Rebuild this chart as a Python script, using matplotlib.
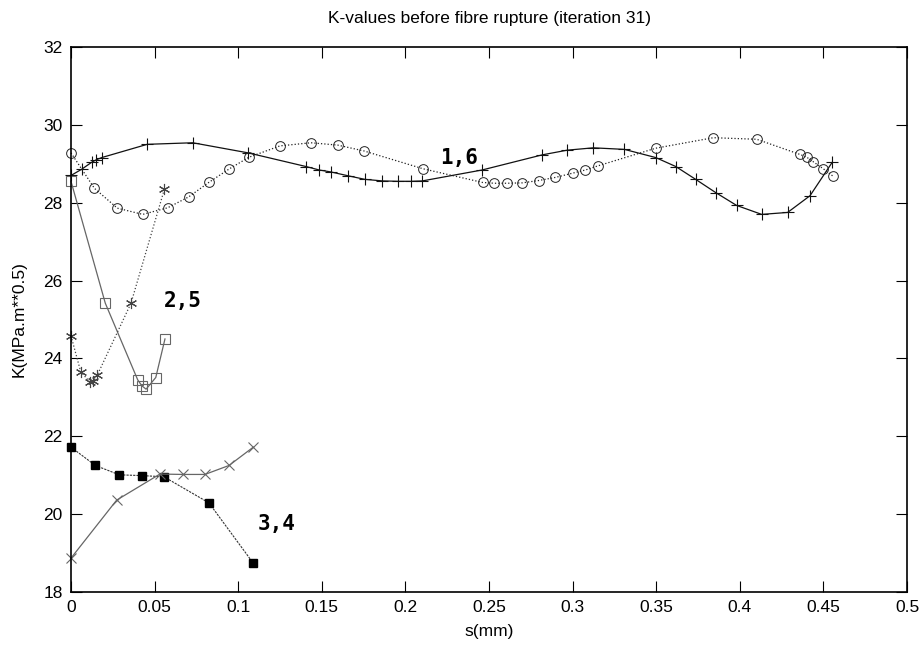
import matplotlib
matplotlib.use('Agg')
import matplotlib.pyplot as plt

# crack front 1,6
s_plus = [0.0, 0.0064, 0.0124, 0.015, 0.0184, 0.0456, 0.0728, 0.106, 0.1405, 0.1485,
          0.1555, 0.1659, 0.1758, 0.1862, 0.1958, 0.2032, 0.2101, 0.2458, 0.2819, 0.2968,
          0.3124, 0.331, 0.3497, 0.3617, 0.3736, 0.3856, 0.3981, 0.4131, 0.4286, 0.442, 0.4553]
k_plus = [28.7, 28.86, 29.04, 29.10, 29.16, 29.50, 29.54, 29.28, 28.93, 28.84,
          28.79, 28.69, 28.60, 28.56, 28.55, 28.55, 28.56, 28.84, 29.23, 29.35,
          29.41, 29.37, 29.16, 28.93, 28.60, 28.26, 27.93, 27.70, 27.75, 28.18, 29.04]

s_circ = [0.0, 0.014, 0.0277, 0.0429, 0.0578, 0.0704, 0.0827, 0.0947, 0.1065, 0.125,
          0.1435, 0.1595, 0.1752, 0.2107, 0.2462, 0.2532, 0.2606, 0.2699, 0.2797, 0.2897,
          0.3001, 0.3076, 0.3154, 0.3497, 0.3842, 0.4101, 0.436, 0.440, 0.444, 0.450, 0.4555]
k_circ = [29.28, 28.37, 27.86, 27.70, 27.87, 28.15, 28.53, 28.87, 29.17, 29.46,
          29.54, 29.48, 29.33, 28.87, 28.52, 28.50, 28.50, 28.51, 28.57, 28.65,
          28.76, 28.84, 28.95, 29.40, 29.67, 29.63, 29.24, 29.17, 29.05, 28.87, 28.69]

# crack front 2,5
s_sq = [0.0, 0.0205, 0.0399, 0.0423, 0.0449, 0.0507, 0.0562]
k_sq = [28.55, 25.42, 23.45, 23.30, 23.21, 23.51, 24.50]

s_star = [0.0, 0.0058, 0.0114, 0.0134, 0.0157, 0.0359, 0.0558]
k_star = [24.58, 23.66, 23.39, 23.43, 23.57, 25.42, 28.34]

# crack front 3,4
s_fsq = [0.0, 0.0146, 0.0289, 0.0423, 0.0556, 0.0825, 0.109]
k_fsq = [21.72, 21.25, 21.01, 20.99, 20.96, 20.29, 18.74]

s_x = [0.0, 0.0273, 0.0532, 0.0668, 0.0801, 0.0945, 0.109]
k_x = [18.87, 20.36, 21.03, 21.02, 21.02, 21.25, 21.72]

plt.rcParams['font.family'] = ['Liberation Sans', 'DejaVu Sans']

fig = plt.figure(figsize=(9.22, 6.47), dpi=100)
ax = fig.add_axes([71/922, 1-592/647, (907-71)/922, (592-47)/647])

ax.plot(s_plus, k_plus, '-', color='#111111', lw=0.9, marker='+', ms=8, mew=0.8, clip_on=False)
ax.plot(s_circ, k_circ, ':', color='#222222', lw=0.9, marker='o', ms=7, mfc='none', mew=0.7, clip_on=False)
ax.plot(s_sq, k_sq, '-', color='#666666', lw=0.9, marker='s', ms=7, mfc='none', mew=0.8, clip_on=False)
ax.plot(s_star, k_star, ':', color='#444444', lw=0.9, marker=(6, 2, 0), ms=8, mew=0.8, clip_on=False)
ax.plot(s_fsq, k_fsq, '--', color='#333333', lw=0.8, dashes=(2, 1), marker='s', ms=6, mfc='black',
        mec='black', clip_on=False)
ax.plot(s_x, k_x, '-', color='#666666', lw=0.9, marker='x', ms=7, mew=0.8, clip_on=False)

mono = dict(family='DejaVu Sans Mono', fontsize=15, fontweight='bold')
ax.text(0.2205, 29.0, '1,6', **mono)
ax.text(0.0555, 25.33, '2,5', **mono)
ax.text(0.1115, 19.6, '3,4', **mono)

ax.set_xlim(0, 0.5)
ax.set_ylim(18, 32)
ax.set_xticks([0, 0.05, 0.1, 0.15, 0.2, 0.25, 0.3, 0.35, 0.4, 0.45, 0.5])
ax.set_xticklabels(['0', '0.05', '0.1', '0.15', '0.2', '0.25', '0.3', '0.35', '0.4', '0.45', '0.5'])
ax.set_yticks(range(18, 33, 2))
ax.tick_params(direction='in', length=8, width=0.8, top=True, right=True, labelsize=12.5, pad=6)
for sp in ax.spines.values():
    sp.set_linewidth(1.2)

ax.set_xlabel('s(mm)', fontsize=12.5, labelpad=6)
ax.set_ylabel('K(MPa.m**0.5)', fontsize=12.5, labelpad=12)
ax.set_title('K-values before fibre rupture (iteration 31)', fontsize=12.5, pad=17)

fig.savefig('out.png', dpi=100)
